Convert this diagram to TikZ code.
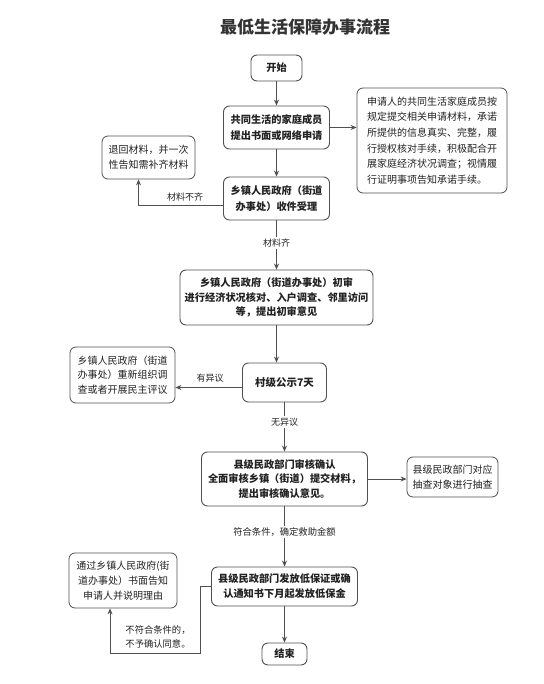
\documentclass[tikz,border=0pt]{standalone}
\usepackage{fontspec}
\newfontfamily\cjk{Noto Sans CJK SC}
\usetikzlibrary{arrows.meta}
\definecolor{lncol}{HTML}{505050}
\definecolor{txcol}{HTML}{222222}
\begin{document}
\begin{tikzpicture}[x=1pt,y=-1pt,
 every node/.style={text=txcol},
 mainbox/.style={draw=lncol, line width=0.9pt, rounded corners=6pt, align=center, inner sep=0pt, font=\cjk\bfseries\fontsize{10.2}{15}\selectfont},
 sidebox/.style={draw=lncol, line width=0.8pt, rounded corners=6pt, align=center, inner sep=0pt, font=\cjk\fontsize{10}{14.8}\selectfont},
 lbl/.style={font=\cjk\fontsize{9}{13}\selectfont, inner sep=1.5pt},
 arr/.style={draw=lncol, line width=0.8pt, -{Stealth[length=6pt,width=5pt]}},
 plain/.style={draw=lncol, line width=0.8pt}
]
\fill[white] (0,0) rectangle (543,684);
\useasboundingbox (0,0) rectangle (543,684);

\node[font=\cjk\bfseries\fontsize{17}{20}\selectfont, text=black!80] (title) at (305,27) {最低生活保障办事流程};

\node[mainbox, minimum width=51pt, minimum height=26pt] (start) at (276.5,68) {开始};
\node[mainbox, minimum width=106pt, minimum height=43pt, font=\cjk\bfseries\fontsize{10.2}{16.5}\selectfont] (box2) at (276.5,127.5) {共同生活的家庭成员\\提出书面或网络申请};
\node[sidebox, minimum width=150pt, minimum height=105pt, align=left, font=\cjk\fontsize{10}{15.6}\selectfont] (right1) at (432,140.5) {申请人的共同生活家庭成员按\\规定提交相关申请材料，承诺\\所提供的信息真实、完整，履\\行授权核对手续，积极配合开\\展家庭经济状况调查；视情履\\行证明事项告知承诺手续。};
\node[mainbox, minimum width=106pt, minimum height=43pt, font=\cjk\bfseries\fontsize{10.2}{16}\selectfont] (box3) at (276.5,198.5) {乡镇人民政府（街道\\办事处）收件受理};
\node[sidebox, minimum width=93pt, minimum height=43pt] (left1) at (148.5,157.5) {退回材料，并一次\\性告知需补齐材料};
\node[lbl] (lblA) at (276.5,243) {材料齐};
\node[mainbox, minimum width=193pt, minimum height=55pt, font=\cjk\bfseries\fontsize{10.2}{14.5}\selectfont] (box4) at (276.5,297.5) {乡镇人民政府（街道办事处）初审\\进行经济状况核对、入户调查、邻里访问\\等，提出初审意见};
\node[mainbox, minimum width=84pt, minimum height=39pt, font=\cjk\bfseries\fontsize{10.5}{15}\selectfont] (box5) at (284.5,382.5) {村级公示7天};
\node[sidebox, minimum width=105pt, minimum height=56pt] (left2) at (122.5,375) {乡镇人民政府（街道\\办事处）重新组织调\\查或者开展民主评议};
\node[lbl] (lblB) at (284.5,422) {无异议};
\node[mainbox, minimum width=166pt, minimum height=54pt, font=\cjk\bfseries\fontsize{10.2}{14.5}\selectfont] (box6) at (284.5,479) {县级民政部门审核确认\\全面审核乡镇（街道）提交材料，\\提出审核确认意见。};
\node[sidebox, minimum width=91pt, minimum height=40pt] (right2) at (452.5,477) {县级民政部门对应\\抽查对象进行抽查};
\node[lbl, font=\cjk\fontsize{9.3}{13}\selectfont] (lblC) at (284.5,532) {符合条件，确定救助金额};
\node[mainbox, minimum width=146pt, minimum height=39pt] (box7) at (284.5,586.5) {县级民政部门发放低保证或确\\认通知书下月起发放低保金};
\node[sidebox, minimum width=108pt, minimum height=55pt] (left3) at (123,580.5) {通过乡镇人民政府(街\\道办事处）书面告知\\申请人并说明理由};
\node[mainbox, minimum width=45pt, minimum height=22pt] (endn) at (284.5,654) {结束};

\node[lbl] (lblD) at (185,197) {材料不齐};
\node[lbl] (lblE) at (210,378) {有异议};
\node[lbl, align=left, font=\cjk\fontsize{9.3}{14.5}\selectfont] (lblF) at (158,637) {不符合条件的，\\不予确认同意。};

\coordinate (c1) at (200,653);

\draw[arr] (start) -- (box2);
\draw[arr] (box2.east) -- (box2.east -| right1.west);
\draw[arr] (box2) -- (box3);
\draw[arr] ([yshift=-7pt]box3.west) -| ([xshift=-10pt]left1.south);
\draw[plain] (box3) -- (lblA);
\draw[arr] (lblA) -- (box4);
\draw[arr] (box4.south) -- (box4.south |- box5.north);
\draw[arr] ([yshift=-5pt]box5.west) -- ([yshift=-5pt]box5.west -| left2.east);
\draw[plain] (box5) -- (lblB);
\draw[arr] (lblB) -- (box6);
\draw[arr] (box6.east) -- (box6.east -| right2.west);
\draw[plain] (box6) -- (lblC);
\draw[arr] (lblC) -- (box7);
\draw[arr] (box7.west) -| (c1) -| ([xshift=-13pt]left3.south);
\draw[arr] (box7) -- (endn);
\end{tikzpicture}
\end{document}
